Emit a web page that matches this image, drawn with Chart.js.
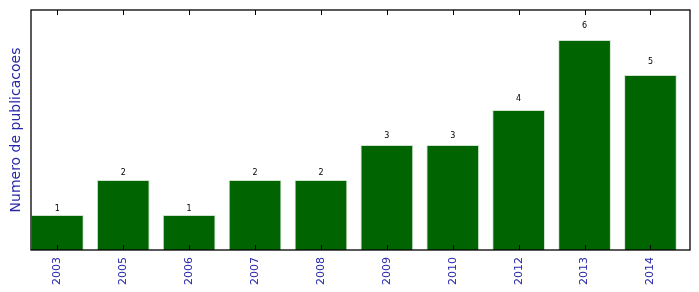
<!DOCTYPE html>
<html>
<head>
<meta charset="utf-8">
<script src="https://cdn.jsdelivr.net/npm/chart.js@4/dist/chart.umd.min.js"></script>
<style>
  html, body { margin: 0; padding: 0; background: #fff; }
  #wrap { width: 699px; height: 292px; }
</style>
</head>
<body>
<div id="wrap"><canvas id="chart" width="699" height="292"></canvas></div>
<script>
const years = ['2003', '2005', '2006', '2007', '2008', '2009', '2010', '2012', '2013', '2014'];
const counts = [1, 2, 1, 2, 2, 3, 3, 4, 6, 5];
const yMax = 6.86;

const barColor = '#006400';
const textBlue = '#2828aa';

// frame, inward ticks top and bottom, value labels above bars
const decorPlugin = {
    id: 'decor',
    afterDatasetsDraw(chart) {
        const ctx = chart.ctx;
        const area = chart.chartArea;
        const xs = chart.scales.x;
        const ys = chart.scales.y;
        ctx.save();
        ctx.strokeStyle = '#000';
        ctx.lineWidth = 1;
        years.forEach((y, i) => {
            const px = Math.round(xs.getPixelForValue(i)) + 0.5;
            ctx.beginPath();
            ctx.moveTo(px, area.bottom);
            ctx.lineTo(px, area.bottom - 5);
            ctx.moveTo(px, area.top);
            ctx.lineTo(px, area.top + 5);
            ctx.stroke();
        });
        ctx.lineWidth = 1.3;
        ctx.strokeRect(area.left, area.top, area.right - area.left, area.bottom - area.top);

        ctx.fillStyle = '#000';
        ctx.font = '8px "DejaVu Sans"';
        ctx.textAlign = 'center';
        ctx.textBaseline = 'bottom';
        counts.forEach((v, i) => {
            ctx.fillText(String(v), xs.getPixelForValue(i), ys.getPixelForValue(v * 1.05));
        });
        ctx.restore();
    }
};

new Chart(document.getElementById('chart'), {
    type: 'bar',
    data: {
        datasets: [{
            data: counts.map((v, i) => ({ x: i, y: v })),
            backgroundColor: barColor,
            borderColor: '#cfe3cf',
            borderWidth: 1,
            barPercentage: 0.8,
            categoryPercentage: 1.0
        }]
    },
    options: {
        responsive: false,
        animation: false,
        layout: { padding: { top: 10, right: 9, left: 0, bottom: 0 } },
        plugins: { legend: { display: false }, tooltip: { enabled: false } },
        scales: {
            x: {
                type: 'linear',
                min: -0.4,
                max: 9.6,
                offset: false,
                grid: { display: false, drawTicks: false },
                border: { display: false },
                afterBuildTicks(scale) {
                    scale.ticks = years.map((y, i) => ({ value: i }));
                },
                afterFit(scale) { scale.height = 42; },
                ticks: {
                    autoSkip: false,
                    maxRotation: 90,
                    minRotation: 90,
                    padding: 7,
                    color: textBlue,
                    font: { family: 'DejaVu Sans', size: 11 },
                    callback: (v) => years[v]
                }
            },
            y: {
                min: 0,
                max: yMax,
                grid: { display: false, drawTicks: false },
                border: { display: false },
                ticks: { display: false },
                afterFit(scale) { scale.width = 31; },
                title: {
                    display: true,
                    text: 'Numero de publicacoes',
                    color: textBlue,
                    font: { family: 'DejaVu Sans', size: 14 },
                    padding: { top: 8, bottom: 0 }
                }
            }
        }
    },
    plugins: [decorPlugin]
});
</script>
</body>
</html>
